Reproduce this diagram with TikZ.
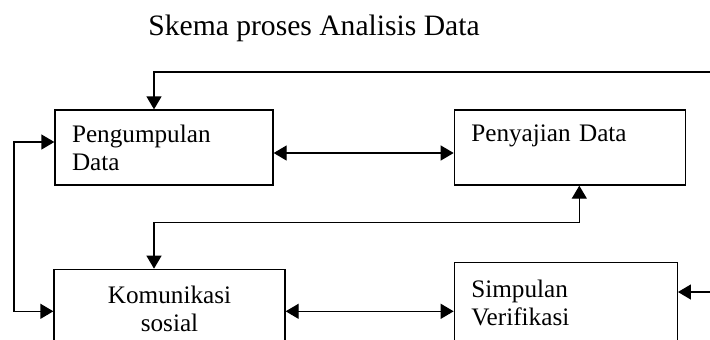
\documentclass[tikz,border=0pt]{standalone}
\usepackage{fontspec}
\setmainfont{Liberation Serif}
\usepackage{tikz}
\usetikzlibrary{arrows.meta, positioning}

\begin{document}
\begin{tikzpicture}[
    x=0.5pt, y=-0.5pt,
    kotak/.style={rectangle, draw=black, line width=0.65pt, inner xsep=8.5pt, align=left, font=\fontsize{12.6}{14}\selectfont},
    judul/.style={font=\fontsize{14.8}{17}\selectfont, anchor=base},
    arr/.style={-{Triangle[length=6.5pt, width=7.5pt]}, line width=0.65pt},
    arrdua/.style={{Triangle[length=6.5pt, width=7.5pt]}-{Triangle[length=6.5pt, width=7.5pt]}, line width=0.65pt}
]
\useasboundingbox (0,0) rectangle (710,339);

% Judul
\node[judul] (skema) at (314,35) {Skema proses Analisis Data};

% Kotak atas
\node[kotak, text width=92pt, minimum height=37.5pt] (pengumpulan) at (164,147.5) {Pengumpulan\\Data};
\node[kotak, text width=98.5pt, minimum height=37.5pt, right=90pt of pengumpulan] (penyajian) {Penyajian Data\\\mbox{}};

% Kotak bawah
\node[kotak, text width=98.5pt, minimum height=39.5pt, align=center, below=41.5pt of pengumpulan.south west, anchor=north west, xshift=-0.5pt] (komunikasi) {Komunikasi\\sosial};
\node[kotak, text width=94.5pt, minimum height=40.5pt, below=38pt of penyajian.south west, anchor=north west] (simpulan) {Simpulan\\Verifikasi};

% Titik belok
\coordinate (kanan1) at (710,72);
\coordinate (kanan2) at (710,292);
\coordinate (kiri) at (14,220);
\coordinate (tengah) at (360,222.5);

% Panah
\draw[arr] (kanan1) -| ([xshift=-5pt]pengumpulan.north);
\draw[arrdua] ([yshift=-2.75pt]pengumpulan.east) -- ([yshift=-2.75pt]penyajian.west);
\draw[arrdua] ([yshift=2.75pt]pengumpulan.west) -| (kiri) |- ([yshift=-1.25pt]komunikasi.west);
\draw[arrdua] ([xshift=-7.75pt]komunikasi.north) |- (tengah) -| ([xshift=4.75pt]penyajian.south);
\draw[arrdua] ([yshift=-1.25pt]komunikasi.east) -- ([yshift=-1.25pt]komunikasi.east -| simpulan.west);
\draw[arr] (kanan2) -- (kanan2 -| simpulan.east);

\end{tikzpicture}
\end{document}
